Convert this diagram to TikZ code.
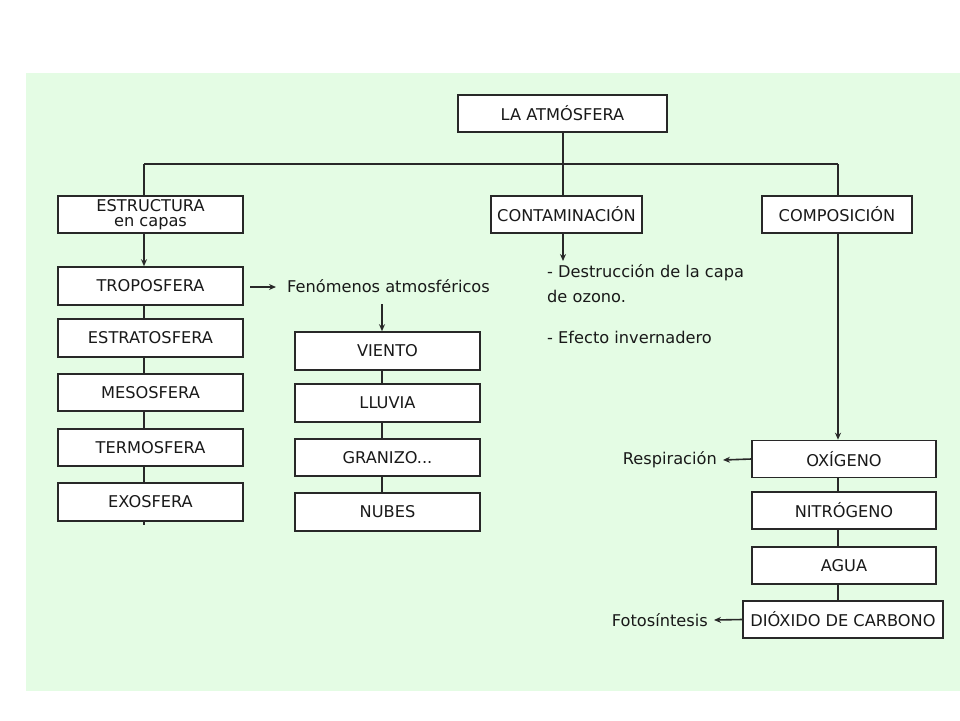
\documentclass[tikz,border=0pt]{standalone}
\usepackage{fontspec}
\setmainfont{DejaVu Sans}
\usetikzlibrary{arrows.meta}
\definecolor{bggreen}{RGB}{228,252,228}
\definecolor{edge}{RGB}{40,40,40}
\begin{document}
\begin{tikzpicture}[x=1pt,y=-1pt,
  every node/.style={font=\fontsize{16.2}{18}\selectfont, text=black!90},
  boxnode/.style={draw=edge, line width=1.6pt, fill=white, inner sep=0pt, align=center},
  plain/.style={inner sep=0pt, align=left},
  conn/.style={draw=edge, line width=1.6pt},
  arr/.style={draw=edge, line width=1.6pt, -{Stealth[length=7pt,width=6pt]}}]
\useasboundingbox (0,0) rectangle (960,720);
\fill[white] (0,0) rectangle (960,720);
\fill[bggreen] (26,73) rectangle (960,691);
% top
\node[boxnode, minimum width=209pt, minimum height=37pt] (atm) at (562.5,113.5) {LA ATMÓSFERA};
\node[boxnode, minimum width=185pt, minimum height=37pt] (est) at (150.5,214.5) {ESTRUCTURA\\[-3pt]en capas};
\node[boxnode, minimum width=151pt, minimum height=37pt] (con) at (566.5,214.5) {CONTAMINACIÓN};
\node[boxnode, minimum width=150pt, minimum height=37pt] (com) at (837,214.5) {COMPOSICIÓN};
\coordinate (hl) at (144,164);
\coordinate (hr) at (838,164);
\coordinate (hm) at (563,164);
\draw[conn] (atm.south -| hm) -- (hm);
\draw[conn] (hl) -- (hr);
\draw[conn] (hl) -- (hl |- est.north);
\draw[conn] (hm) -- (hm |- con.north);
\draw[conn] (hr) -- (hr |- com.north);
% left column
\node[boxnode, minimum width=185pt, minimum height=38pt] (tro) at (150.5,286) {TROPOSFERA};
\node[boxnode, minimum width=185pt, minimum height=38pt] (estr) at (150.5,338) {ESTRATOSFERA};
\node[boxnode, minimum width=185pt, minimum height=37pt] (meso) at (150.5,392.5) {MESOSFERA};
\node[boxnode, minimum width=185pt, minimum height=37pt] (term) at (150.5,447.5) {TERMOSFERA};
\node[boxnode, minimum width=185pt, minimum height=38pt] (exo) at (150.5,502) {EXOSFERA};
\coordinate (lc) at (144,0);
\draw[arr] (est.south -| lc) -- (tro.north -| lc);
\draw[conn] (tro.south -| lc) -- (estr.north -| lc);
\draw[conn] (estr.south -| lc) -- (meso.north -| lc);
\draw[conn] (meso.south -| lc) -- (term.north -| lc);
\draw[conn] (term.south -| lc) -- (exo.north -| lc);
\coordinate (exotick) at (144,525);
\draw[conn] (exo.south -| lc) -- (exotick);
% phenomena
\node[plain, anchor=west] (fen) at (287,286) {Fenómenos atmosféricos};
\coordinate (troa) at (250,287);
\coordinate (fena) at (276,287);
\draw[arr] (troa) -- (fena);
\node[boxnode, minimum width=185pt, minimum height=38pt] (vie) at (387.5,351) {VIENTO};
\node[boxnode, minimum width=185pt, minimum height=38pt] (llu) at (387.5,403) {LLUVIA};
\node[boxnode, minimum width=185pt, minimum height=37pt] (gra) at (387.5,457.5) {GRANIZO...};
\node[boxnode, minimum width=185pt, minimum height=38pt] (nub) at (387.5,512) {NUBES};
\coordinate (mc) at (382,0);
\coordinate (fenb) at (382,304);
\draw[arr] (fenb) -- (vie.north -| mc);
\draw[conn] (vie.south -| mc) -- (llu.north -| mc);
\draw[conn] (llu.south -| mc) -- (gra.north -| mc);
\draw[conn] (gra.south -| mc) -- (nub.north -| mc);
% contamination
\node[plain, anchor=west] (cont1) at (547,273) {- Destrucción de la capa};
\node[plain, anchor=west] (cont2) at (547,296) {de ozono.};
\node[plain, anchor=west] (cont3) at (547,337) {- Efecto invernadero};
\coordinate (conta) at (563,261);
\draw[arr] (con.south -| hm) -- (conta);
% composition
\node[boxnode, minimum width=184pt, minimum height=37pt] (oxi) at (844,459) {OXÍGENO};
\node[boxnode, minimum width=184pt, minimum height=37pt] (nit) at (844,510.5) {NITRÓGENO};
\node[boxnode, minimum width=184pt, minimum height=37pt] (agu) at (844,565.5) {AGUA};
\node[boxnode, minimum width=200pt, minimum height=37pt] (dio) at (843,619.5) {DIÓXIDO DE CARBONO};
\coordinate (rc) at (838,0);
\draw[arr] (com.south -| rc) -- (oxi.north -| rc);
\draw[conn] (oxi.south -| rc) -- (nit.north -| rc);
\draw[conn] (nit.south -| rc) -- (agu.north -| rc);
\draw[conn] (agu.south -| rc) -- (dio.north -| rc);
\node[plain, anchor=east] (resp) at (717,460) {Respiración};
\node[plain, anchor=east] (foto) at (708,620) {Fotosíntesis};
\draw[arr] (oxi.west) -- ([xshift=6pt]resp.east);
\draw[arr] (dio.west) -- ([xshift=6pt]foto.east);
\end{tikzpicture}
\end{document}
